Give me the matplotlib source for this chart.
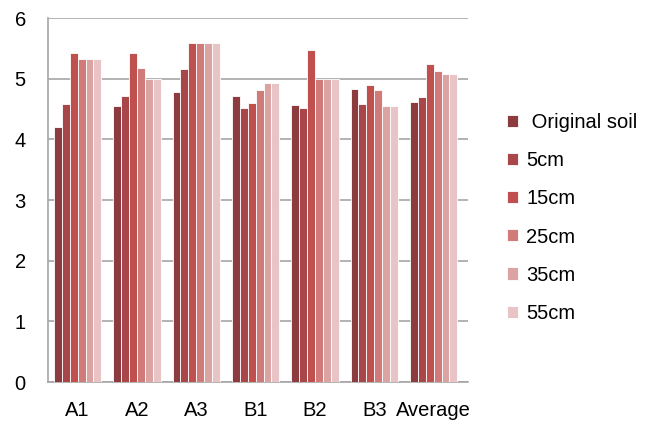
import numpy as np
import matplotlib.pyplot as plt

plt.rcParams['font.family'] = ['Liberation Sans', 'DejaVu Sans']

groups = ["A1", "A2", "A3", "B1", "B2", "B3", "Average"]
series = [" Original soil", "5cm", "15cm", "25cm", "35cm", "55cm"]
colors = ["#8C3B3F", "#A8464A", "#C0504D", "#D07A7A", "#DCA3A3", "#E8C4C6"]

original_soil = [4.20, 4.55, 4.78, 4.72, 4.57, 4.83, 4.61]
cm5 = [4.58, 4.72, 5.16, 4.52, 4.52, 4.58, 4.69]
cm15 = [5.43, 5.42, 5.59, 4.60, 5.47, 4.90, 5.25]
cm25 = [5.33, 5.17, 5.59, 4.81, 5.00, 4.82, 5.13]
cm35 = [5.33, 5.00, 5.59, 4.93, 5.00, 4.55, 5.07]
cm55 = [5.33, 5.00, 5.59, 4.93, 5.00, 4.55, 5.07]
values = [original_soil, cm5, cm15, cm25, cm35, cm55]

fig = plt.figure(figsize=(6.49, 4.21), dpi=100)
ax = fig.add_axes([48 / 649, 39 / 421, 420 / 649, 364 / 421])

x = np.arange(len(groups))
w = 0.8 / len(series)
for i, (name, vals) in enumerate(zip(series, values)):
    ax.bar(x - 0.4 + w * (i + 0.5), vals, width=w, color=colors[i],
           edgecolor="white", linewidth=0.6, label=name, zorder=3)

ax.set_ylim(0, 6)
ax.set_xlim(-0.5, 6.58)
ax.set_yticks(range(0, 7))
ax.set_xticks(x)
ax.set_xticklabels(groups)
ax.yaxis.grid(True, color="#A6A6A6", linewidth=1.2, zorder=0)
ax.tick_params(axis="both", length=0, labelsize=14.5)
ax.tick_params(axis="x", pad=14)
ax.tick_params(axis="y", pad=16)
for s in ["top", "right"]:
    ax.spines[s].set_visible(False)
for s in ["left", "bottom"]:
    ax.spines[s].set_color("#A6A6A6")
    ax.spines[s].set_linewidth(1.2)

fig.legend(loc="upper left", bbox_to_anchor=(489 / 649, 1 - 95 / 421),
           frameon=False, fontsize=14.5, handlelength=0.55, handleheight=0.55,
           handletextpad=0.4, labelspacing=0.95)

fig.savefig("out.png", dpi=100)
